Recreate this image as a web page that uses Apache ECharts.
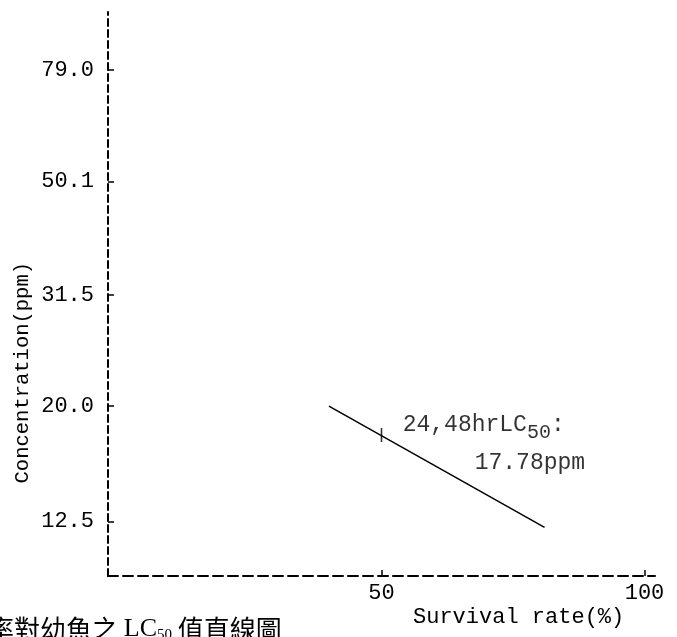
<!DOCTYPE html>
<html>
<head>
<meta charset="utf-8">
<script src="https://cdn.jsdelivr.net/npm/echarts@6/dist/echarts.min.js"></script>
<style>
  html, body { margin: 0; padding: 0; background: #fff; }
  #chart { width: 677px; height: 637px; }
</style>
</head>
<body>
<div id="chart"></div>
<script>
// Survival rate (%) vs. concentration (ppm), regression line on a log axis
const survivalRate = [40, 81];
const concentration = [20.0, 12.2];

// 24/48 hr LC50 point
const lc50Survival = 50;
const lc50Value = 17.78;

// Axis tick labels
const yTickValues = [12.5, 20.0, 31.5, 50.1, 79.0];
const xTickValues = [50, 100];

const mono = '"Liberation Mono", "DejaVu Sans Mono", monospace';
const ink = '#000';

const chart = echarts.init(document.getElementById('chart'));

chart.setOption({
  animation: false,
  backgroundColor: '#fff',
  grid: { left: 108, right: 22, top: 12, bottom: 61 },
  xAxis: {
    type: 'value',
    min: -2,
    max: 102,
    splitLine: { show: false },
    axisLine: { show: true, onZero: false, lineStyle: { color: ink, width: 2, type: [10, 5] } },
    axisTick: { show: true, inside: true, length: 6, customValues: xTickValues, lineStyle: { color: ink, width: 1.5 } },
    axisLabel: {
      customValues: xTickValues,
      margin: 6,
      color: ink,
      fontFamily: mono,
      fontSize: 22
    }
  },
  yAxis: {
    type: 'log',
    logBase: 10,
    min: 10,
    max: 100,
    splitLine: { show: false },
    axisLine: { show: true, onZero: false, lineStyle: { color: ink, width: 2, type: [7, 4] } },
    axisTick: { show: true, inside: true, length: 6, customValues: yTickValues, lineStyle: { color: ink, width: 1.5 } },
    axisLabel: {
      customValues: yTickValues,
      margin: 14,
      color: ink,
      fontFamily: mono,
      fontSize: 22,
      formatter: v => Number(v).toFixed(1)
    }
  },
  series: [
    {
      type: 'line',
      data: survivalRate.map((x, i) => [x, concentration[i]]),
      symbol: 'none',
      lineStyle: { color: ink, width: 1.5 }
    },
    {
      type: 'scatter',
      data: [[lc50Survival, lc50Value]],
      symbol: 'rect',
      symbolSize: [1.6, 14],
      itemStyle: { color: ink },
      label: {
        show: true,
        position: [22, -22],
        formatter: '{a|24,48hrLC}{s|50}{a|:}\n{b|' + lc50Value.toFixed(2) + 'ppm}',
        rich: {
          a: { fontFamily: mono, fontSize: 23, color: ink, lineHeight: 38 },
          s: { fontFamily: mono, fontSize: 20, color: ink, lineHeight: 38, padding: [16, 0, 0, 0] },
          b: { fontFamily: mono, fontSize: 23, color: ink, lineHeight: 38, padding: [0, 0, 0, 72] }
        }
      }
    }
  ],
  graphic: [
    {
      type: 'text',
      left: 12,
      top: 262,
      rotation: Math.PI / 2,
      style: {
        text: 'Concentration(ppm)',
        fontFamily: mono,
        fontSize: 20.5,
        fill: ink
      }
    },
    {
      type: 'text',
      left: 413,
      top: 606,
      style: {
        text: 'Survival rate(%)',
        fontFamily: mono,
        fontSize: 22,
        fill: ink
      }
    },
    {
      type: 'text',
      left: -12,
      top: 616,
      style: {
        text: '{c|率對幼魚之 }{l|LC}{s|50}{c| 值直線圖}',
        rich: {
          c: { fontFamily: '"Noto Sans CJK TC", sans-serif', fontSize: 26, color: ink },
          l: { fontFamily: '"Liberation Serif", serif', fontSize: 26, color: ink },
          s: { fontFamily: '"Liberation Serif", serif', fontSize: 15, color: ink, padding: [12, 0, 0, 0] }
        }
      }
    }
  ]
});
</script>
</body>
</html>
